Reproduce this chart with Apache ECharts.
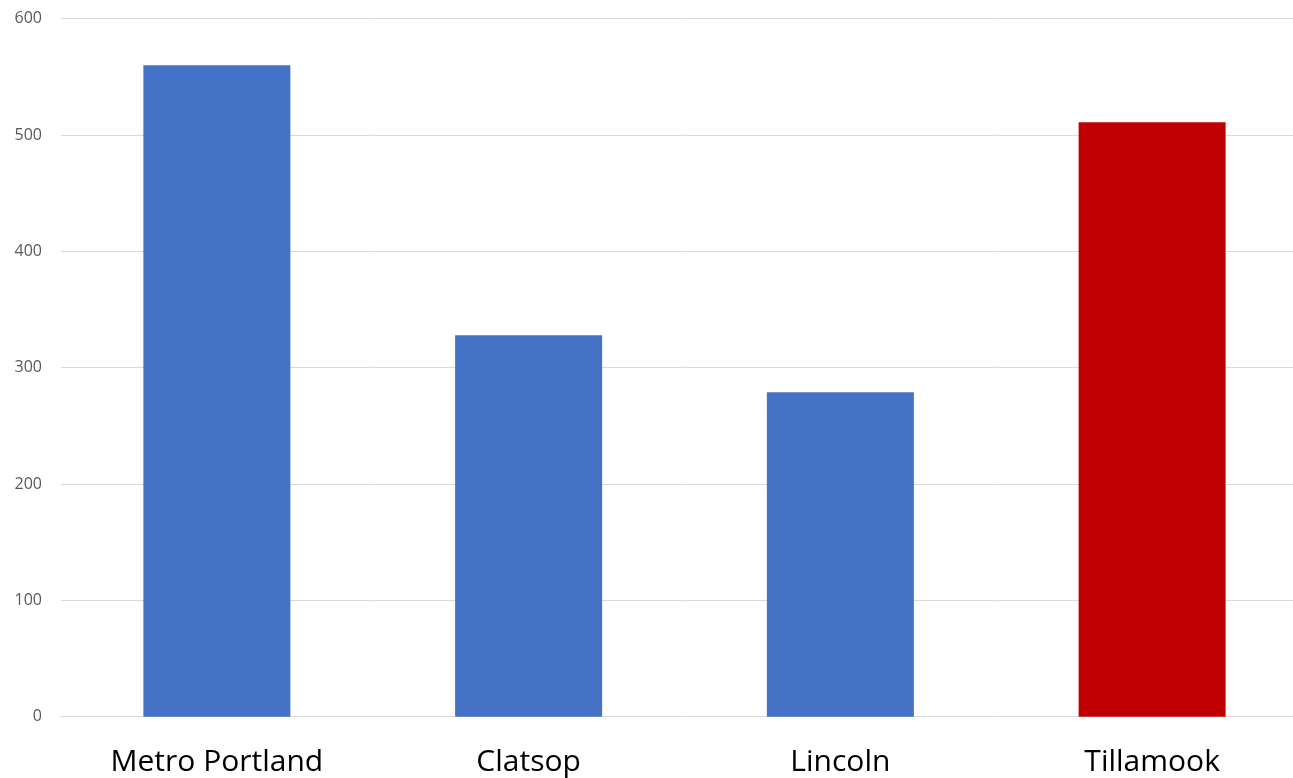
<!DOCTYPE html>
<html>
<head>
<meta charset="utf-8">
<script src="https://cdn.jsdelivr.net/npm/echarts@6/dist/echarts.min.js"></script>
<style>html,body{margin:0;padding:0;background:#fff;overflow:hidden;width:1293px;height:778px;}#c{width:1308px;height:778px;}</style>
</head>
<body>
<div id="c"></div>
<script>
const categories = ["Metro Portland", "Clatsop", "Lincoln", "Tillamook"];
const values = [560, 328, 279, 511];
const barColors = ["#4472C4", "#4472C4", "#4472C4", "#C00000"];
const yTicks = [0, 100, 200, 300, 400, 500, 600];

const chart = echarts.init(document.getElementById('c'));
chart.setOption({
  animation: false,
  backgroundColor: '#fff',
  grid: { left: 61, right: 0, top: 18.7, bottom: 61.3, containLabel: false },
  xAxis: {
    type: 'category',
    data: categories,
    axisLine: { show: true, lineStyle: { color: '#D9D9D9', width: 1 } },
    axisTick: { show: false },
    axisLabel: { color: '#000', fontSize: 30, fontFamily: 'Open Sans', margin: 31 }
  },
  yAxis: {
    type: 'value',
    min: yTicks[0],
    max: yTicks[yTicks.length - 1],
    interval: 100,
    axisLine: { show: false },
    axisTick: { show: false },
    splitLine: { lineStyle: { color: '#D9D9D9', width: 1 } },
    axisLabel: { color: '#595959', fontSize: 16, fontFamily: 'Open Sans', margin: 19 }
  },
  series: [{
    type: 'bar',
    data: values.map((v, i) => ({ value: v, itemStyle: { color: barColors[i] } })),
    barWidth: 147
  }]
});
</script>
</body>
</html>
